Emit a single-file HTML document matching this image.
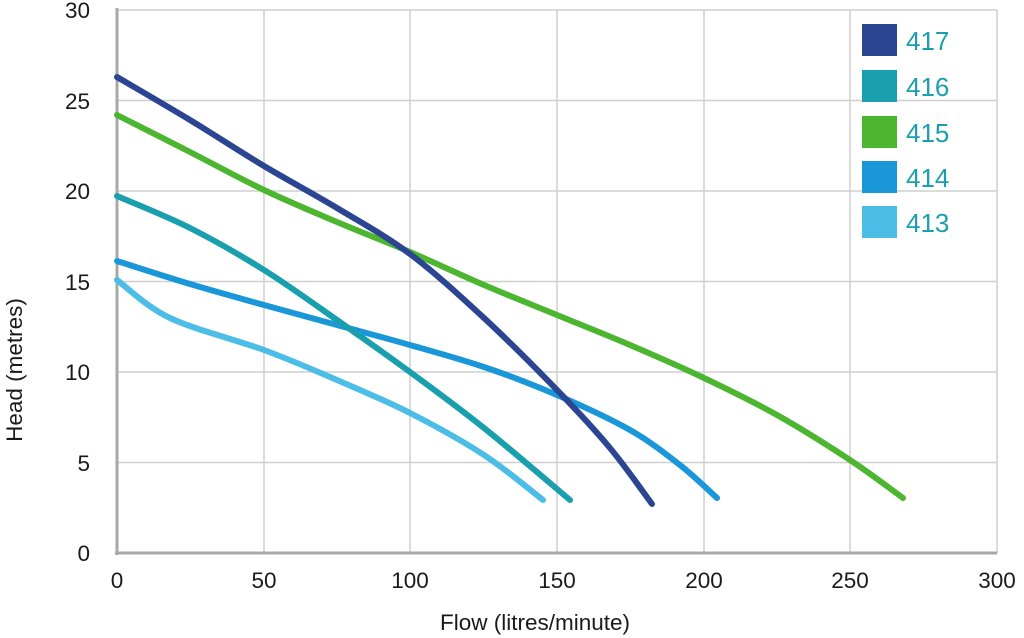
<!DOCTYPE html>
<html><head><meta charset="utf-8"><style>
html,body{margin:0;padding:0;background:#fff;}
svg{display:block;font-family:"Liberation Sans",sans-serif;}
</style></head><body>
<svg width="1024" height="638" viewBox="0 0 1024 638" xmlns="http://www.w3.org/2000/svg">
<g stroke="#cfcfcf" stroke-width="1.5" fill="none">
<line x1="264" y1="10" x2="264" y2="553"/><line x1="410" y1="10" x2="410" y2="553"/>
<line x1="557" y1="10" x2="557" y2="553"/><line x1="704" y1="10" x2="704" y2="553"/>
<line x1="850" y1="10" x2="850" y2="553"/><line x1="997" y1="10" x2="997" y2="553"/>
<line x1="117" y1="10" x2="997" y2="10"/><line x1="117" y1="100.5" x2="997" y2="100.5"/>
<line x1="117" y1="191" x2="997" y2="191"/><line x1="117" y1="281.5" x2="997" y2="281.5"/>
<line x1="117" y1="372" x2="997" y2="372"/><line x1="117" y1="462.5" x2="997" y2="462.5"/>
</g>
<g stroke="#a8a8a8" stroke-width="3"><line x1="117" y1="8" x2="117" y2="555"/><line x1="115" y1="553" x2="997" y2="553"/></g>
<g font-size="22.5" fill="#1a1a1a" text-anchor="end">
<text x="90" y="561">0</text><text x="90" y="471">5</text><text x="90" y="380">10</text>
<text x="90" y="290">15</text><text x="90" y="199">20</text><text x="90" y="109">25</text><text x="90" y="18">30</text>
</g>
<g font-size="22.5" fill="#1a1a1a" text-anchor="middle">
<text x="117" y="588">0</text><text x="264" y="588">50</text><text x="410" y="588">100</text>
<text x="557" y="588">150</text><text x="704" y="588">200</text><text x="850" y="588">250</text><text x="997" y="588">300</text>
<text x="535" y="630">Flow (litres/minute)</text>
<text transform="translate(22,370) rotate(-90)">Head (metres)</text>
</g>
<g id="curves" fill="none" stroke-width="6" stroke-linecap="round" stroke-linejoin="round"></g>
<rect x="862" y="24" width="35" height="32" fill="#2b4593"/>
<rect x="862" y="70" width="35" height="32" fill="#1a9fae"/>
<rect x="862" y="116" width="35" height="32" fill="#4cb630"/>
<rect x="862" y="161" width="35" height="32" fill="#1a97d9"/>
<rect x="862" y="206" width="35" height="32" fill="#4cbde6"/>
<g font-size="26" fill="#1a9fae">
<text x="906" y="50">417</text><text x="906" y="96">416</text><text x="906" y="142">415</text>
<text x="906" y="187">414</text><text x="906" y="232">413</text>
</g>
</svg>
<script>
var S=[
["#4cb630",[[117,115],[190,152],[264,190],[337,222],[410,252],[484,285],[557,315],[630,345],[704,378],[777,415],[850,460],[903,498]]],
["#1a97d9",[[117,261],[190,284],[264,305],[337,325],[410,345],[484,367],[557,395],[630,430],[680,465],[717,498]]],
["#4cbde6",[[117,280],[170,318],[264,350],[337,380],[410,413],[484,455],[543,500]]],
["#1a9fae",[[117,196],[190,228],[264,270],[337,320],[410,372],[484,428],[570,500]]],
["#2b4593",[[117,77],[190,120],[264,166],[337,208],[410,254],[484,318],[557,390],[610,448],[652,504]]]];
var g=document.getElementById('curves');
S.forEach(function(s){var p=s[1],d='M'+p[0][0]+','+p[0][1];
for(var i=0;i<p.length-1;i++){var a=p[Math.max(0,i-1)],b=p[i],c=p[i+1],e=p[Math.min(p.length-1,i+2)];
d+=' C'+(b[0]+(c[0]-a[0])/6)+','+(b[1]+(c[1]-a[1])/6)+' '+(c[0]-(e[0]-b[0])/6)+','+(c[1]-(e[1]-b[1])/6)+' '+c[0]+','+c[1];}
var el=document.createElementNS('http://www.w3.org/2000/svg','path');el.setAttribute('d',d);el.setAttribute('stroke',s[0]);g.appendChild(el);});
</script>
</body></html>
